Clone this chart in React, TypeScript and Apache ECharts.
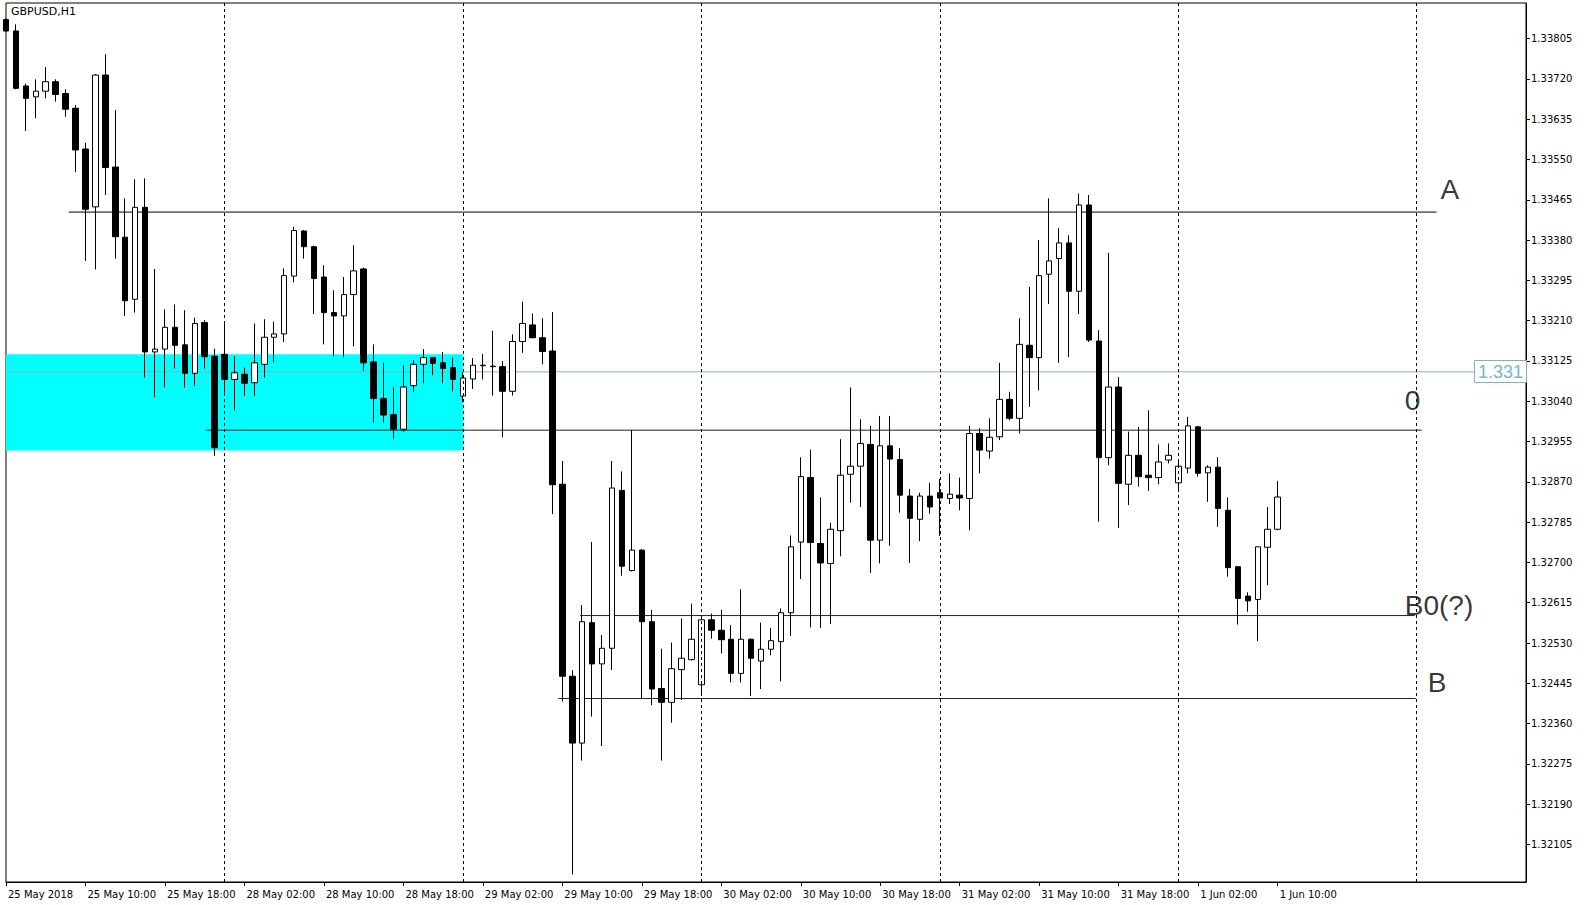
import React, { useEffect, useRef } from 'react';
import * as echarts from 'echarts';

const chartTitle = 'GBPUSD,H1';

const xTickLabels = [
  '25 May 2018', '25 May 10:00', '25 May 18:00', '28 May 02:00', '28 May 10:00', '28 May 18:00',
  '29 May 02:00', '29 May 10:00', '29 May 18:00', '30 May 02:00', '30 May 10:00', '30 May 18:00',
  '31 May 02:00', '31 May 10:00', '31 May 18:00', '1 Jun 02:00', '1 Jun 10:00',
];

const yTickLabels = [
  '1.32105', '1.32190', '1.32275', '1.32360', '1.32445', '1.32530', '1.32615', '1.32700',
  '1.32785', '1.32870', '1.32955', '1.33040', '1.33125', '1.33210', '1.33295', '1.33380',
  '1.33465', '1.33550', '1.33635', '1.33720', '1.33805',
];

const opens = [
  1.33845, 1.33821, 1.33705, 1.33682, 1.33694, 1.33714, 1.33689, 1.33658, 1.33572, 1.33450,
  1.33728, 1.33534, 1.33386, 1.33255, 1.33449, 1.33144, 1.33150, 1.33196, 1.33159, 1.33099,
  1.33206, 1.33135, 1.33139, 1.33086, 1.33097, 1.33079, 1.33118, 1.33175, 1.33182, 1.33304,
  1.33399, 1.33366, 1.33302, 1.33227, 1.33220, 1.33265, 1.33319, 1.33123, 1.33046, 1.33012,
  1.32981, 1.33073, 1.33118, 1.33132, 1.33121, 1.33111, 1.33051, 1.33087, 1.33115, 1.33114,
  1.33113, 1.33061, 1.33166, 1.33201, 1.33174, 1.33146, 1.32865, 1.32460, 1.32319, 1.32573,
  1.32486, 1.32519, 1.32852, 1.32683, 1.32726, 1.32575, 1.32434, 1.32405, 1.32474, 1.32495,
  1.32442, 1.32579, 1.32557, 1.32538, 1.32466, 1.32538, 1.32492, 1.32517, 1.32533, 1.32594,
  1.32743, 1.32879, 1.32740, 1.32698, 1.32767, 1.32886, 1.32903, 1.32949, 1.32747, 1.32946,
  1.32917, 1.32840, 1.32791, 1.32840, 1.32847, 1.32835, 1.32842, 1.32835, 1.32972, 1.32935,
  1.32965, 1.33044, 1.33004, 1.33158, 1.33132, 1.33308, 1.33341, 1.33374, 1.33272, 1.33454,
  1.33167, 1.32921, 1.33070, 1.32865, 1.32926, 1.32884, 1.32879, 1.32916, 1.32868, 1.32899,
  1.32986, 1.32889, 1.32901, 1.32810, 1.32691, 1.32629, 1.32622, 1.32732, 1.32770,
];

const closes = [
  1.33821, 1.33700, 1.33679, 1.33694, 1.33714, 1.33687, 1.33656, 1.33570, 1.33445, 1.33728,
  1.33533, 1.33387, 1.33252, 1.33449, 1.33144, 1.33150, 1.33196, 1.33158, 1.33099, 1.33204,
  1.33134, 1.32942, 1.33086, 1.33100, 1.33078, 1.33121, 1.33175, 1.33182, 1.33305, 1.33400,
  1.33366, 1.33299, 1.33227, 1.33220, 1.33265, 1.33315, 1.33121, 1.33046, 1.33011, 1.32981,
  1.33070, 1.33118, 1.33132, 1.33120, 1.33109, 1.33086, 1.33089, 1.33116, 1.33116, 1.33113,
  1.33061, 1.33166, 1.33204, 1.33174, 1.33145, 1.32864, 1.32460, 1.32319, 1.32575, 1.32486,
  1.32519, 1.32857, 1.32692, 1.32726, 1.32575, 1.32433, 1.32405, 1.32476, 1.32498, 1.32538,
  1.32579, 1.32557, 1.32537, 1.32466, 1.32538, 1.32498, 1.32517, 1.32535, 1.32594, 1.32733,
  1.32881, 1.32742, 1.32699, 1.32770, 1.32884, 1.32903, 1.32951, 1.32747, 1.32946, 1.32918,
  1.32842, 1.32793, 1.32840, 1.32817, 1.32836, 1.32844, 1.32836, 1.32972, 1.32937, 1.32964,
  1.33044, 1.33004, 1.33160, 1.33132, 1.33305, 1.33336, 1.33374, 1.33272, 1.33454, 1.33169,
  1.32921, 1.33070, 1.32867, 1.32926, 1.32881, 1.32879, 1.32912, 1.32926, 1.32903, 1.32988,
  1.32888, 1.32901, 1.32814, 1.32689, 1.32624, 1.32619, 1.32733, 1.32770, 1.32838,
];

const lows = [
  1.33819, 1.33698, 1.33610, 1.33637, 1.33679, 1.33672, 1.33640, 1.33523, 1.33336, 1.33318,
  1.33475, 1.33341, 1.33220, 1.33227, 1.33090, 1.33048, 1.33069, 1.33109, 1.33069, 1.33072,
  1.33109, 1.32925, 1.33058, 1.33021, 1.33051, 1.33051, 1.33090, 1.33122, 1.33165, 1.33291,
  1.33341, 1.33224, 1.33160, 1.33134, 1.33132, 1.33156, 1.33104, 1.32995, 1.32995, 1.32960,
  1.32976, 1.33059, 1.33078, 1.33095, 1.33078, 1.33061, 1.33038, 1.33066, 1.33086, 1.33052,
  1.32964, 1.33052, 1.33142, 1.33173, 1.33118, 1.32802, 1.32407, 1.32042, 1.32282, 1.32375,
  1.32313, 1.32473, 1.32672, 1.32681, 1.32412, 1.32399, 1.32282, 1.32362, 1.32410, 1.32493,
  1.32420, 1.32539, 1.32508, 1.32447, 1.32447, 1.32418, 1.32433, 1.32504, 1.32449, 1.32545,
  1.32665, 1.32563, 1.32562, 1.32570, 1.32713, 1.32826, 1.32817, 1.32678, 1.32698, 1.32735,
  1.32805, 1.32699, 1.32745, 1.32803, 1.32756, 1.32823, 1.32810, 1.32768, 1.32888, 1.32919,
  1.32958, 1.33000, 1.32972, 1.33028, 1.33063, 1.33245, 1.33121, 1.33133, 1.33224, 1.33165,
  1.32786, 1.32905, 1.32773, 1.32821, 1.32860, 1.32851, 1.32865, 1.32909, 1.32854, 1.32888,
  1.32881, 1.32828, 1.32775, 1.32670, 1.32569, 1.32596, 1.32534, 1.32652, 1.32768,
];

const highs = [
  1.33848, 1.33835, 1.33710, 1.33719, 1.33745, 1.33719, 1.33698, 1.33665, 1.33585, 1.33730,
  1.33772, 1.33654, 1.33468, 1.33508, 1.33510, 1.33319, 1.33234, 1.33244, 1.33232, 1.33216,
  1.33211, 1.33151, 1.33209, 1.33135, 1.33111, 1.33204, 1.33213, 1.33208, 1.33320, 1.33408,
  1.33401, 1.33368, 1.33327, 1.33274, 1.33302, 1.33369, 1.33322, 1.33160, 1.33121, 1.33070,
  1.33116, 1.33127, 1.33150, 1.33133, 1.33144, 1.33132, 1.33101, 1.33131, 1.33140, 1.33189,
  1.33125, 1.33181, 1.33250, 1.33225, 1.33215, 1.33228, 1.32914, 1.32473, 1.32610, 1.32743,
  1.32547, 1.32914, 1.32892, 1.32979, 1.32728, 1.32600, 1.32518, 1.32531, 1.32582, 1.32613,
  1.32586, 1.32592, 1.32600, 1.32568, 1.32643, 1.32540, 1.32573, 1.32562, 1.32603, 1.32757,
  1.32922, 1.32938, 1.32837, 1.32784, 1.32960, 1.33069, 1.33002, 1.32988, 1.33009, 1.33009,
  1.32941, 1.32855, 1.32847, 1.32868, 1.32876, 1.32888, 1.32879, 1.32988, 1.32983, 1.33004,
  1.33121, 1.33060, 1.33215, 1.33281, 1.33380, 1.33468, 1.33405, 1.33390, 1.33478, 1.33475,
  1.33190, 1.33353, 1.33091, 1.32976, 1.32986, 1.33021, 1.32949, 1.32951, 1.32916, 1.33007,
  1.32988, 1.32905, 1.32922, 1.32837, 1.32691, 1.32637, 1.32733, 1.32817, 1.32872,
];

// bar-slot positions of the daily period separators
const daySeparators = [22, 46, 70, 94, 118, 142];

// horizontal levels drawn on the chart
const levelNames = ['A', '0', 'B0(?)', 'B'];
const levelPrices = [1.33439, 1.32979, 1.32588, 1.32413];
const levelFrom = [6.3, 20.1, 57.8, 55.6];
const levelTo = [144.0, 142.5, 141.8, 141.9];

// current price line
const bidPrice = 1.33102;
const bidLabel = '1.3310';

// cyan zone
const zoneFrom = 0;
const zoneTo = 46;
const zoneTop = 1.33139;
const zoneBottom = 1.32936;

const SLOTS = 154;
const LABEL_STEP = 8;
const Y_MIN = 1.32026;
const Y_MAX = 1.3388;

// label anchors (bar slot, price) for level names
const labelSlots = [144.4, 140.8, 140.8, 143.1];
const labelPrices = [1.33486, 1.33042, 1.3261, 1.32446];

const TEAL = '#7fb6b0';

export default function App() {
  const ref = useRef<HTMLDivElement>(null);

  useEffect(() => {
    document.body.style.margin = '0';
    document.body.style.overflow = 'hidden';
    const chart = echarts.init(ref.current as HTMLDivElement, null, { renderer: 'svg' });

    const slots = Array.from({ length: SLOTS }, (_, i) => String(i));
    const candleData = opens.map((o, i) => [o, closes[i], lows[i], highs[i]]);
    const yTicks = yTickLabels.map(Number);
    const isTick = (i: number) => i % LABEL_STEP === 0 && i / LABEL_STEP < xTickLabels.length;

    const levelSeries = levelNames.map((name, i) => ({
      type: 'line',
      name,
      xAxisIndex: 1,
      yAxisIndex: 0,
      data: [
        [levelFrom[i], levelPrices[i]],
        [levelTo[i], levelPrices[i]],
      ],
      symbol: 'none',
      silent: true,
      lineStyle: { color: i === 0 ? '#000' : '#222', width: 1 },
      z: 2,
    }));

    const option: any = {
      animation: false,
      backgroundColor: '#fff',
      grid: {
        left: 6,
        right: 66,
        top: 3,
        bottom: 23,
        show: true,
        borderColor: '#000',
        borderWidth: 1,
        backgroundColor: '#fff',
      },
      xAxis: [
        {
          type: 'category',
          data: slots,
          boundaryGap: false,
          axisLine: { show: true, onZero: false, lineStyle: { color: '#000', width: 1 } },
          axisTick: {
            show: true,
            interval: (i: number) => isTick(i),
            length: 4,
            lineStyle: { color: '#000' },
          },
          axisLabel: {
            show: true,
            interval: (i: number) => isTick(i),
            formatter: (v: string) => xTickLabels[Number(v) / LABEL_STEP] ?? '',
            align: 'left',
            margin: 7,
            fontSize: 10,
            fontFamily: 'DejaVu Sans',
            color: '#000',
            padding: [0, 0, 0, 2],
          },
          splitLine: { show: false },
        },
        {
          type: 'value',
          min: 0,
          max: SLOTS - 1,
          show: false,
          axisLine: { onZero: false },
          axisTick: { show: false },
          axisLabel: { show: false },
          splitLine: { show: false },
        },
      ],
      yAxis: {
        type: 'value',
        position: 'right',
        min: Y_MIN,
        max: Y_MAX,
        axisLine: { show: true, onZero: false, lineStyle: { color: '#000', width: 1 } },
        axisTick: {
          show: true,
          inside: false,
          length: 4,
          customValues: yTicks,
          lineStyle: { color: '#000' },
        },
        axisLabel: {
          show: true,
          customValues: yTicks,
          formatter: (v: number) => v.toFixed(5),
          margin: 5,
          fontSize: 10,
          fontFamily: 'DejaVu Sans',
          color: '#000',
        },
        splitLine: { show: false },
      },
      graphic: [
        {
          type: 'text',
          x: 11,
          y: 6,
          z: 100,
          style: {
            text: chartTitle,
            font: '11px "DejaVu Sans"',
            fill: '#000',
            verticalAlign: 'top',
          },
        },
        {
          type: 'rect',
          z: 100,
          shape: { x: 1474.5, y: 360.5, width: 52, height: 22 },
          style: { fill: '#fff', stroke: TEAL, lineWidth: 1 },
        },
        {
          type: 'text',
          x: 1478,
          y: 372,
          z: 101,
          style: {
            text: bidLabel,
            font: '18px "Liberation Sans"',
            fill: '#7cb4cc',
            verticalAlign: 'middle',
            width: 48,
            overflow: 'truncate',
            ellipsis: '',
          },
        },
      ],
      series: [
        {
          type: 'line',
          name: 'zone',
          xAxisIndex: 1,
          yAxisIndex: 0,
          data: [[zoneFrom, zoneTop]],
          symbol: 'none',
          silent: true,
          lineStyle: { opacity: 0 },
          z: 1,
          markArea: {
            silent: true,
            itemStyle: { color: '#00ffff', opacity: 1 },
            data: [[{ coord: [zoneFrom, zoneTop] }, { coord: [zoneTo, zoneBottom] }]],
          },
        },
        {
          type: 'line',
          name: 'separators',
          xAxisIndex: 1,
          yAxisIndex: 0,
          data: [[0, bidPrice], [SLOTS - 1, bidPrice]],
          symbol: 'none',
          silent: true,
          lineStyle: { color: TEAL, width: 1 },
          z: 2,
          markLine: {
            silent: true,
            symbol: ['none', 'none'],
            label: { show: false },
            lineStyle: { color: '#000', width: 1, type: [3, 3] },
            data: daySeparators.map((x) => ({ xAxis: x })),
          },
        },
        ...levelSeries,
        {
          type: 'scatter',
          name: 'labels',
          xAxisIndex: 1,
          yAxisIndex: 0,
          symbolSize: 1,
          silent: true,
          itemStyle: { color: 'rgba(0,0,0,0)' },
          data: levelNames.map((n, i) => ({ name: n, value: [labelSlots[i], labelPrices[i]] })),
          label: {
            show: true,
            position: 'inside',
            align: 'left',
            verticalAlign: 'middle',
            formatter: '{b}',
            fontSize: 28,
            fontFamily: 'Liberation Sans',
            color: '#000',
          },
          z: 4,
        },
        {
          type: 'candlestick',
          name: 'GBPUSD',
          xAxisIndex: 0,
          yAxisIndex: 0,
          data: candleData,
          barWidth: 6,
          silent: true,
          itemStyle: {
            color: '#fff',
            color0: '#000',
            borderColor: '#000',
            borderColor0: '#000',
            borderColorDoji: '#000',
            borderWidth: 1,
          },
          z: 3,
        },
      ],
    };

    chart.setOption(option);
    return () => {
      chart.dispose();
    };
  }, []);

  return (
    <div
      ref={ref}
      style={{ position: 'absolute', left: 0, top: 0, width: 1592, height: 905, background: '#fff' }}
    />
  );
}
